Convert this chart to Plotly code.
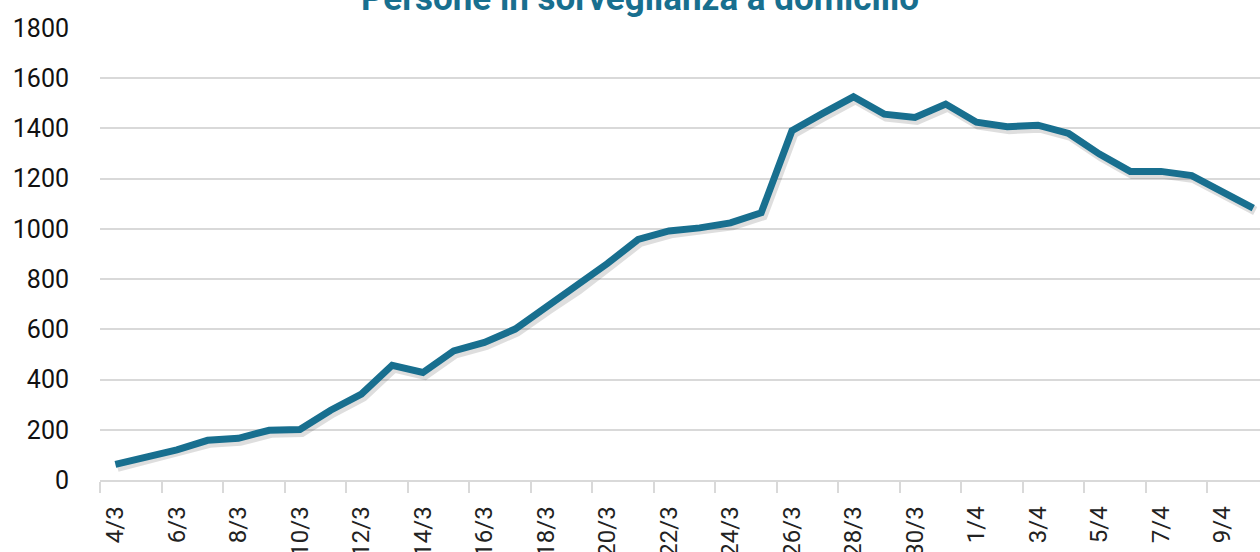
import plotly.graph_objects as go

dates = ["4/3", "5/3", "6/3", "7/3", "8/3", "9/3", "10/3", "11/3", "12/3", "13/3",
         "14/3", "15/3", "16/3", "17/3", "18/3", "19/3", "20/3", "21/3", "22/3", "23/3",
         "24/3", "25/3", "26/3", "27/3", "28/3", "29/3", "30/3", "31/3", "1/4", "2/4",
         "3/4", "4/4", "5/4", "6/4", "7/4", "8/4", "9/4", "10/4"]
persone = [62, 92, 120, 158, 166, 198, 201, 278, 342, 457,
           428, 514, 548, 601, 687, 768, 862, 958, 992, 1004,
           1024, 1064, 1391, 1460, 1526, 1457, 1444, 1497, 1425, 1407,
           1413, 1380, 1298, 1229, 1229, 1212, 1148, 1083]
y_ticks = [0, 200, 400, 600, 800, 1000, 1200, 1400, 1600, 1800]

TEAL = "#186f8f"
FONT = "Roboto"

x_range = [-0.5, 37.22]
y_range = [0, 1800]
# shadow shift (about 2 px right, 3 px down)
sx = 2 / 30.75
sy = 3 * 1800 / 452.3

fig = go.Figure()
fig.add_trace(go.Scatter(x=dates, y=persone, mode="lines",
                         line=dict(color="rgba(0,0,0,0.13)", width=9),
                         xaxis="x", yaxis="y", hoverinfo="skip", showlegend=False))
fig.add_trace(go.Scatter(x=dates, y=persone, mode="lines",
                         line=dict(color=TEAL, width=7),
                         xaxis="x2", yaxis="y2", showlegend=False))

fig.update_layout(
    width=1260, height=552,
    margin=dict(l=100, r=0, t=28, b=72, autoexpand=False),
    paper_bgcolor="white", plot_bgcolor="white",
    font=dict(family=FONT, color="#1a1a1a", size=25),
    xaxis=dict(visible=False, type="category", categoryorder="array", automargin=False,
               categoryarray=dates, range=[x_range[0] - sx, x_range[1] - sx]),
    yaxis=dict(visible=False, automargin=False,
               range=[y_range[0] + sy, y_range[1] + sy]),
    xaxis2=dict(overlaying="x", side="bottom", type="category", automargin=False,
                categoryorder="array", categoryarray=dates,
                range=x_range, tickmode="linear", tick0=0, dtick=2,
                tickson="boundaries", ticks="outside", ticklen=11,
                tickwidth=1.5, tickcolor="#d9d9d9",
                showline=True, linecolor="#d9d9d9", linewidth=1.5,
                showgrid=False, tickangle=-90,
                tickfont=dict(family=FONT, size=24, color="#222222"),
                ticklabelstandoff=15),
    yaxis2=dict(overlaying="y", side="left", range=y_range, automargin=False,
                tickmode="array", tickvals=y_ticks,
                showgrid=True, gridcolor="#d9d9d9", gridwidth=1.5,
                zeroline=False, showline=False, ticks="",
                tickfont=dict(family=FONT, size=25, color="#111111"),
                ticklabelstandoff=30),
    title=dict(text="<b>Persone in sorveglianza a domicilio</b>",
               font=dict(family=FONT, size=35, color=TEAL),
               x=640 / 1260, xanchor="center", xref="container",
               yref="container", y=1 - 10 / 552, yanchor="bottom",
               automargin=False),
)

fig.write_html("out.html", config={"displayModeBar": False},
               post_script="document.body.style.margin='0';document.body.style.overflow='hidden';")
